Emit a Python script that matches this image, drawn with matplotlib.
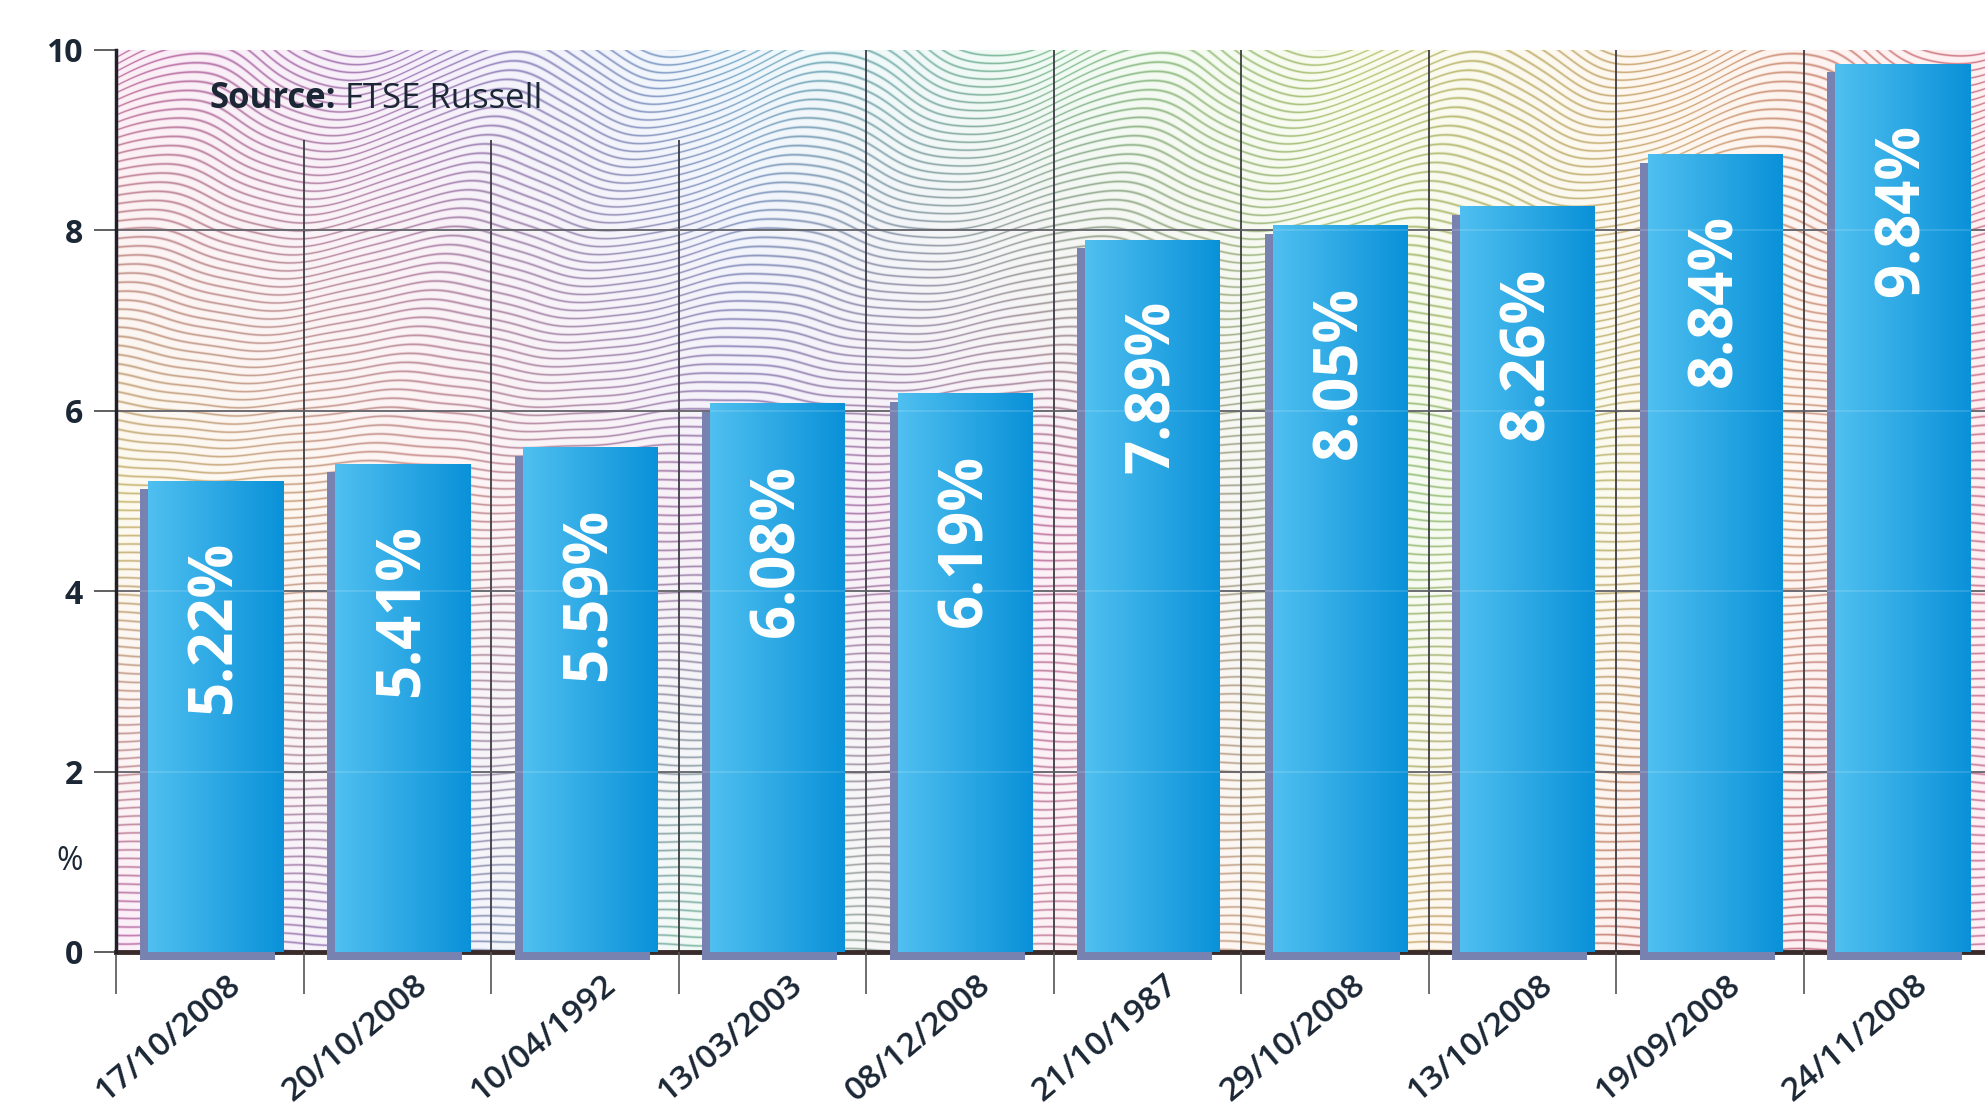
import numpy as np
import matplotlib
matplotlib.use('Agg')
from matplotlib import pyplot as plt
from matplotlib import transforms

# data
dates = ['17/10/2008', '20/10/2008', '10/04/1992', '13/03/2003', '08/12/2008',
         '21/10/1987', '29/10/2008', '13/10/2008', '19/09/2008', '24/11/2008']
falls = [5.22, 5.41, 5.59, 6.08, 6.19, 7.89, 8.05, 8.26, 8.84, 9.84]
y_ticks = [0, 2, 4, 6, 8, 10]
source_bold = 'Source:'
source_name = ' FTSE Russell'

plt.rcParams['font.family'] = ['Open Sans', 'DejaVu Sans']
navy = '#1b2735'
slate = '#7882b0'

fig = plt.figure(figsize=(19.85, 11.2), dpi=100)
fig.patch.set_facecolor('white')
ax = fig.add_axes([116 / 1985, 168 / 1120, 1875 / 1985, 902 / 1120])

n = len(falls)
x = np.arange(n)

# wavy background, coloured by position
W, H = 1875, 902
px, py = np.meshgrid(np.arange(W), np.arange(H))
amp = 2.0 + 30 * np.clip((540 - py) / 540, 0, 1) ** 1.5
wave = amp * np.sin(2 * np.pi * px / 320 + py / 150.0)
ripple = 1.0 * np.sin(2 * np.pi * px / 95 + py / 40.0)
s = (py + wave + ripple) / 8.5
lines = (0.5 + 0.5 * np.cos(2 * np.pi * s)) ** 6

top_row = [(0.85, 0.2, 0.6), (0.55, 0.3, 0.8), (0.25, 0.65, 0.9), (0.3, 0.8, 0.45),
           (0.75, 0.85, 0.2), (0.95, 0.6, 0.25), (0.95, 0.25, 0.4)]
mid_row = [(0.9, 0.8, 0.25), (0.95, 0.5, 0.45), (0.6, 0.3, 0.75), (0.85, 0.3, 0.6),
           (0.45, 0.85, 0.35), (0.95, 0.8, 0.3), (0.95, 0.3, 0.5)]
bot_row = [(0.85, 0.25, 0.7), (0.45, 0.45, 0.85), (0.35, 0.85, 0.6), (0.9, 0.4, 0.6),
           (0.95, 0.8, 0.3), (0.9, 0.25, 0.3), (0.9, 0.3, 0.6)]
xf = np.linspace(0, 1, 7)
xs = np.linspace(0, 1, W)
rows = []
for row in (top_row, mid_row, bot_row):
    row = np.array(row)
    rows.append(np.stack([np.interp(xs, xf, row[:, c]) for c in range(3)], axis=-1))
rows = np.array(rows)
ys = np.linspace(0, 1, H)
w_top = np.clip(1 - 2 * ys, 0, 1)[:, None, None]
w_bot = np.clip(2 * ys - 1, 0, 1)[:, None, None]
w_mid = 1 - w_top - w_bot
col = w_top * rows[0][None] + w_mid * rows[1][None] + w_bot * rows[2][None]
tint = 1 - 0.08 * (1 - col)
line_col = col * 0.75
k = (lines * 0.6)[:, :, None]
img = tint * (1 - k) + line_col * k
ax.imshow(img, extent=(-0.5, n - 0.5, 0, 10), aspect='auto', zorder=0,
          interpolation='antialiased')

# grid
for yv in y_ticks[1:-1]:
    ax.axhline(yv, color='#4a4a52', lw=1.3, zorder=1)
bounds = np.arange(0.5, n - 0.5, 1)
tops = np.where(bounds < 3, 9.0, 10)
ax.vlines(bounds, 0, tops, color='#3c3c44', lw=1.3, zorder=1)

# bars: slate shadow offset down-left, gradient front face
bw = 0.72
shift = transforms.ScaledTranslation(-8 / 100, -8 / 100, fig.dpi_scale_trans)
grad = np.linspace(0, 1, 64)[None, :, None]
left_c = np.array([0.31, 0.75, 0.94])
right_c = np.array([0.04, 0.57, 0.85])
grad_img = left_c * (1 - grad) + right_c * grad
for xi, v in zip(x, falls):
    x0 = xi + 0.03 - bw / 2
    shadow = plt.Rectangle((x0, 0), bw, v, facecolor=slate, edgecolor='none',
                           transform=ax.transData + shift, zorder=2, clip_on=False)
    ax.add_patch(shadow)
    ax.imshow(grad_img, extent=(x0, x0 + bw, 0, v), aspect='auto', zorder=3,
              interpolation='bilinear')
    ax.annotate('%.2f%%' % v, (xi + 0.03, v), xytext=(0, -43), textcoords='offset points',
                rotation=90, ha='center', va='top', color='white', fontsize=43,
                fontweight='bold', zorder=5)
for yv in y_ticks[1:-1]:
    ax.axhline(yv, color='white', lw=1.3, alpha=0.15, zorder=4)

ax.set_xlim(-0.5, n - 0.5)
ax.set_ylim(0, 10)

# axes
for side in ('top', 'right'):
    ax.spines[side].set_visible(False)
ax.spines['left'].set_color('#20202a')
ax.spines['left'].set_linewidth(2.5)
ax.spines['left'].set_zorder(6)
ax.spines['bottom'].set_color('#3a2b2b')
ax.spines['bottom'].set_linewidth(3.5)
ax.spines['bottom'].set_zorder(1.5)

ax.set_yticks(y_ticks)
ax.set_yticklabels([str(t) for t in y_ticks])
ax.tick_params(axis='y', length=16, width=1.2, color='#444', pad=8,
               labelsize=23, labelcolor=navy)
for lab in ax.get_yticklabels():
    lab.set_fontweight('bold')

ax.set_xticks(x)
ax.set_xticklabels(dates, rotation=40, ha='right', rotation_mode='anchor',
                   fontsize=24, fontweight='semibold', color=navy)
ax.set_xticks(np.arange(-0.5, n, 1), minor=True)
ax.tick_params(axis='x', which='major', length=0, pad=12)
ax.tick_params(axis='x', which='minor', length=30, width=1.2, color='#555')
nudge = transforms.ScaledTranslation(16 / 100, 0, fig.dpi_scale_trans)
for lab in ax.get_xticklabels():
    lab.set_transform(lab.get_transform() + nudge)

ax.annotate('%', (0, 1), xycoords=('axes fraction', 'data'), xytext=(-24, 0),
            textcoords='offset points', ha='right', va='center',
            fontsize=23, color=navy)

src = ax.text(0.0, 9.46, source_bold, fontsize=25, fontweight='bold',
              color=navy, va='center', ha='left', zorder=5)
ax.annotate(source_name, (1, 0.5), xycoords=src, ha='left', va='center',
            fontsize=25, color=navy, zorder=5)

fig.savefig('out.png', dpi=100, facecolor='white')
